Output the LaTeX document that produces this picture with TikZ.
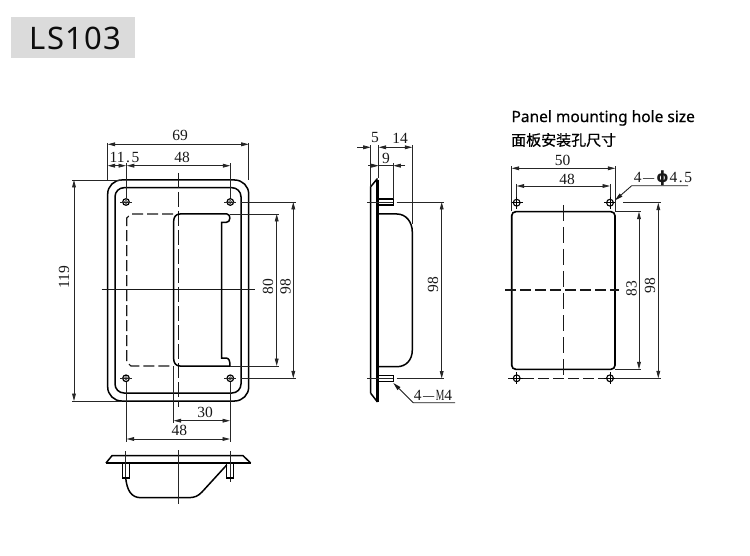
\documentclass[tikz,border=0pt]{standalone}
\usepackage{fontspec}
\setmainfont{Liberation Serif}
\newfontfamily\labelfont[LetterSpace=4]{Noto Sans}
\newfontfamily\titlefont[FakeBold=0.35]{Noto Sans}
\newfontfamily\cjkfont[FakeBold=0.4]{Noto Sans CJK SC}
\newfontfamily\symfont{DejaVu Sans}
\usetikzlibrary{arrows.meta}
\tikzset{
  outl/.style={line width=1.5pt,black},
  thinl/.style={line width=0.8pt,black!85},
  solidc/.style={line width=1pt,black!90},
  dimn/.style={line width=0.8pt,black!85,{Triangle[length=7.5pt,width=3.8pt]}-{Triangle[length=7.5pt,width=3.8pt]}},
  tipn/.style={line width=0.8pt,black!85,-{Triangle[length=7.5pt,width=3.8pt]}},
  leadn/.style={line width=0.85pt,black!90,{Triangle[length=8pt,width=4pt]}-},
  dashl/.style={line width=1.1pt,black!90,dash pattern=on 11pt off 4pt},
  cent/.style={line width=1pt,black!90,dash pattern=on 15pt off 4pt},
  txt/.style={inner sep=0pt,text=black!90,font=\fontsize{15.5}{15.5}\selectfont},
  head/.style={inner sep=0pt,anchor=west,text=black}
}
\newcommand{\lefthole}[2]{%
  \draw[line width=1.2pt,black] (#1,#2) circle (3.3pt);
  \draw[line width=0.5pt,black!70,fill=black!35] (#1,#2) circle (1.7pt);
  \draw[thinl] (#1-6,#2) -- (#1+6,#2);
}
\newcommand{\panelhole}[2]{%
  \draw[line width=1.1pt,black] (#1,#2) circle (3.4pt);
  \draw[line width=1pt,black] (#1-6,#2) -- (#1+6,#2) (#1,#2-6) -- (#1,#2+6);
}
\newcommand{\shortdash}{\scalebox{0.72}[1]{\textemdash}}
\begin{document}
\begin{tikzpicture}[x=1pt,y=-1pt]
\useasboundingbox (0,0) rectangle (750,556);
\fill[white] (0,0) rectangle (750,556);
% badge
\fill[black!14] (11,17) rectangle (135,58);
\node[inner sep=0pt,text=black!95,font=\labelfont\fontsize{31}{31}\selectfont] (badge) at (75.5,38) {LS103};

% ===== front view =====
\draw[outl,rounded corners=14pt] (107.7,180) rectangle (248.7,401);
\draw[outl,rounded corners=9pt] (115,187.7) rectangle (241,393);
\draw[cent] (178,173) -- (178,407);
\draw[solidc] (101.7,290) -- (255,290);
\draw[dashl] (173,214) -- (131,214) -- (126.7,218) -- (126.7,362) -- (131,366) -- (173,366);
% handle
\draw[outl] (180,366) .. controls (176,366) and (173.7,363) .. (173.7,359) -- (173.7,221) .. controls (173.7,217) and (176,214) .. (180,214) -- (227,214)
  .. controls (231,214) and (231,222.5) .. (226,222.5) -- (221.7,222.5) -- (221.7,358) -- (226,358)
  .. controls (229,358) and (230,361) .. (230,366) -- cycle;
\lefthole{126}{202}
\lefthole{230.3}{202}
\lefthole{126}{378.3}
\lefthole{230.3}{378.3}
% front dims
\draw[thinl] (107.7,143) -- (107.7,180) (248.7,143) -- (248.7,180);
\draw[dimn] (107.7,144.3) -- (248.7,144.3);
\node[txt] (d69) at (180,135) {69};
\draw[thinl] (126,163.5) -- (126,198) (230.3,163.5) -- (230.3,198);
\draw[tipn] (116,165.7) -- (107.7,165.7);
\draw[tipn] (116,165.7) -- (126,165.7);
\draw[dimn] (126.8,165.7) -- (230.3,165.7);
\node[txt] (d115) at (124.5,157) {11\makebox[7pt]{.}5};
\node[txt] (d48a) at (182,157) {48};
\draw[thinl] (72,180) -- (122,180) (72,401) -- (122,401);
\draw[dimn] (74,180) -- (74,401);
\node[txt,rotate=90] (d119) at (64,277) {119};
\draw[thinl] (230,214) -- (278.5,214) (230,366) -- (278.5,366);
\draw[dimn] (276.7,214) -- (276.7,366);
\node[txt,rotate=90] (d80) at (268,286.5) {80};
\draw[thinl] (241,202) -- (295.5,202) (241,378.3) -- (295.5,378.3);
\draw[dimn] (293.3,202) -- (293.3,378.3);
\node[txt,rotate=90] (d98a) at (285.5,286.5) {98};
\draw[thinl] (173.7,366) -- (173.7,423);
\draw[dimn] (173.7,420.7) -- (230,420.7);
\node[txt] (d30) at (205,412.5) {30};
\draw[thinl] (126.7,382) -- (126.7,441.5) (230,382) -- (230,441.5);
\draw[dimn] (126.7,439) -- (230,439);
\node[txt] (d48b) at (179.3,430.5) {48};

% ===== bottom view =====
\draw[outl] (106,463) -- (112,455.7) -- (243,455.7) -- (250.7,463);
\draw[line width=2.6pt,black] (106,463) -- (250.7,463);
\draw[thinl] (125.7,451) -- (125.7,478);
\draw[thinl] (230,451) -- (230,482);
\draw[line width=1.1pt,black] (122.7,463) -- (122.7,478) -- (129.3,478) -- (129.3,463);
\draw[line width=1.1pt,black] (226.7,463) -- (226.7,478) -- (233.3,478) -- (233.3,463);
\draw[outl] (125.7,478) .. controls (127,490) and (131,497.7) .. (141,497.7) -- (188,497.7) .. controls (195,497.7) and (198,496) .. (202,492) -- (226.7,465);
\draw[thinl] (178.3,450) -- (178.3,504);

% ===== side view =====
\draw[line width=3.2pt,black] (377.7,180) -- (377.7,401.7);
\draw[outl] (370.7,393.3) -- (370.7,186.7) -- (377.5,178.5);
\draw[outl] (370.7,393.3) -- (377.5,402);
\draw[outl] (379,214) -- (397,214) .. controls (406,214) and (412.3,222) .. (412.3,232) -- (412.3,350) .. controls (412.3,360) and (406,366.7) .. (397,366.7) -- (379,366.7);
\draw[line width=1.1pt,black] (379,199) -- (393.3,199) -- (393.3,205) -- (379,205);
\draw[line width=1.1pt,black] (379,375.2) -- (393.3,375.2) -- (393.3,381.8) -- (379,381.8);
\draw[thinl] (367,202) -- (393.3,202) (396.7,202) -- (443.5,202);
\draw[thinl] (367,378.5) -- (393.3,378.5) (396.7,378.5) -- (443.5,378.5);
\draw[dimn] (441.7,202) -- (441.7,378.5);
\node[txt,rotate=90] (d98b) at (433,285) {98};
\draw[thinl] (370.7,145.5) -- (370.7,187) (378.7,145.5) -- (378.7,178) (412.3,145.5) -- (412.3,224) (393.3,163.5) -- (393.3,199);
\draw[tipn] (357,147.3) -- (370.7,147.3);
\draw[dimn] (378.7,147.3) -- (412.3,147.3);
\node[txt] (d5) at (375,138) {5};
\node[txt] (d14) at (400,138.5) {14};
\draw[tipn] (368,165.7) -- (378.7,165.7);
\draw[tipn] (405,165.7) -- (393.3,165.7);
\draw[thinl] (378.7,165.7) -- (393.3,165.7);
\node[txt] (d9) at (386,158) {9};
\coordinate (mtip) at (393.3,383);
\coordinate (mknee) at (413.3,402.7);
\coordinate (mend) at (455,402.7);
\draw[leadn] (mtip) -- (mknee) -- (mend);
\node[txt] (m4) at (433,395) {4\kern1.5pt\shortdash\kern1.5pt\scalebox{0.62}[1]{M}4};

% ===== panel =====
\node[head,font=\titlefont\fontsize{15.5}{15.5}\selectfont] (title) at (511.3,118) {Panel mounting hole size};
\node[head,font=\cjkfont\fontsize{15}{15}\selectfont] (titlecn) at (511,140) {面板安装孔尺寸};
\draw[line width=1.6pt,black,rounded corners=4pt] (511.7,211.7) rectangle (615,369.3);
\draw[cent,dash pattern=on 16pt off 6pt] (563.3,205) -- (563.3,376.7);
\draw[dashl] (505,290) -- (619,290);
\draw[dashl] (508,378.3) -- (619,378.3);
\panelhole{516.7}{202.7}
\panelhole{610}{202.7}
\panelhole{516.7}{378.3}
\panelhole{610}{378.3}
\draw[thinl] (511.7,166.5) -- (511.7,211) (615.3,166.5) -- (615.3,211);
\draw[dimn] (511.7,168.3) -- (615.3,168.3);
\node[txt] (d50) at (562.7,160.5) {50};
\draw[thinl] (516.7,184) -- (516.7,197) (610,184) -- (610,197);
\draw[dimn] (516.7,186) -- (610,186);
\node[txt] (d48c) at (567,179) {48};
\coordinate (ptip) at (615,200.3);
\coordinate (pknee) at (631.7,185.7);
\coordinate (pend) at (688,185.7);
\draw[leadn] (ptip) -- (pknee) -- (pend);
\node[txt] (phi) at (663,178) {4\kern1.5pt\shortdash\kern2pt{\symfont\bfseries ϕ}\kern1pt4\makebox[7pt]{.}5};
\draw[thinl] (615,211.7) -- (641,211.7) (615,369.3) -- (641,369.3);
\draw[dimn] (639,211.7) -- (639,369.3);
\node[txt,rotate=90] (d83) at (631.5,289) {83};
\draw[thinl] (623,202.7) -- (660.5,202.7) (615,378.3) -- (660.5,378.3);
\draw[dimn] (658.3,202.7) -- (658.3,378.3);
\node[txt,rotate=90] (d98c) at (650,286) {98};
\end{tikzpicture}
\end{document}
